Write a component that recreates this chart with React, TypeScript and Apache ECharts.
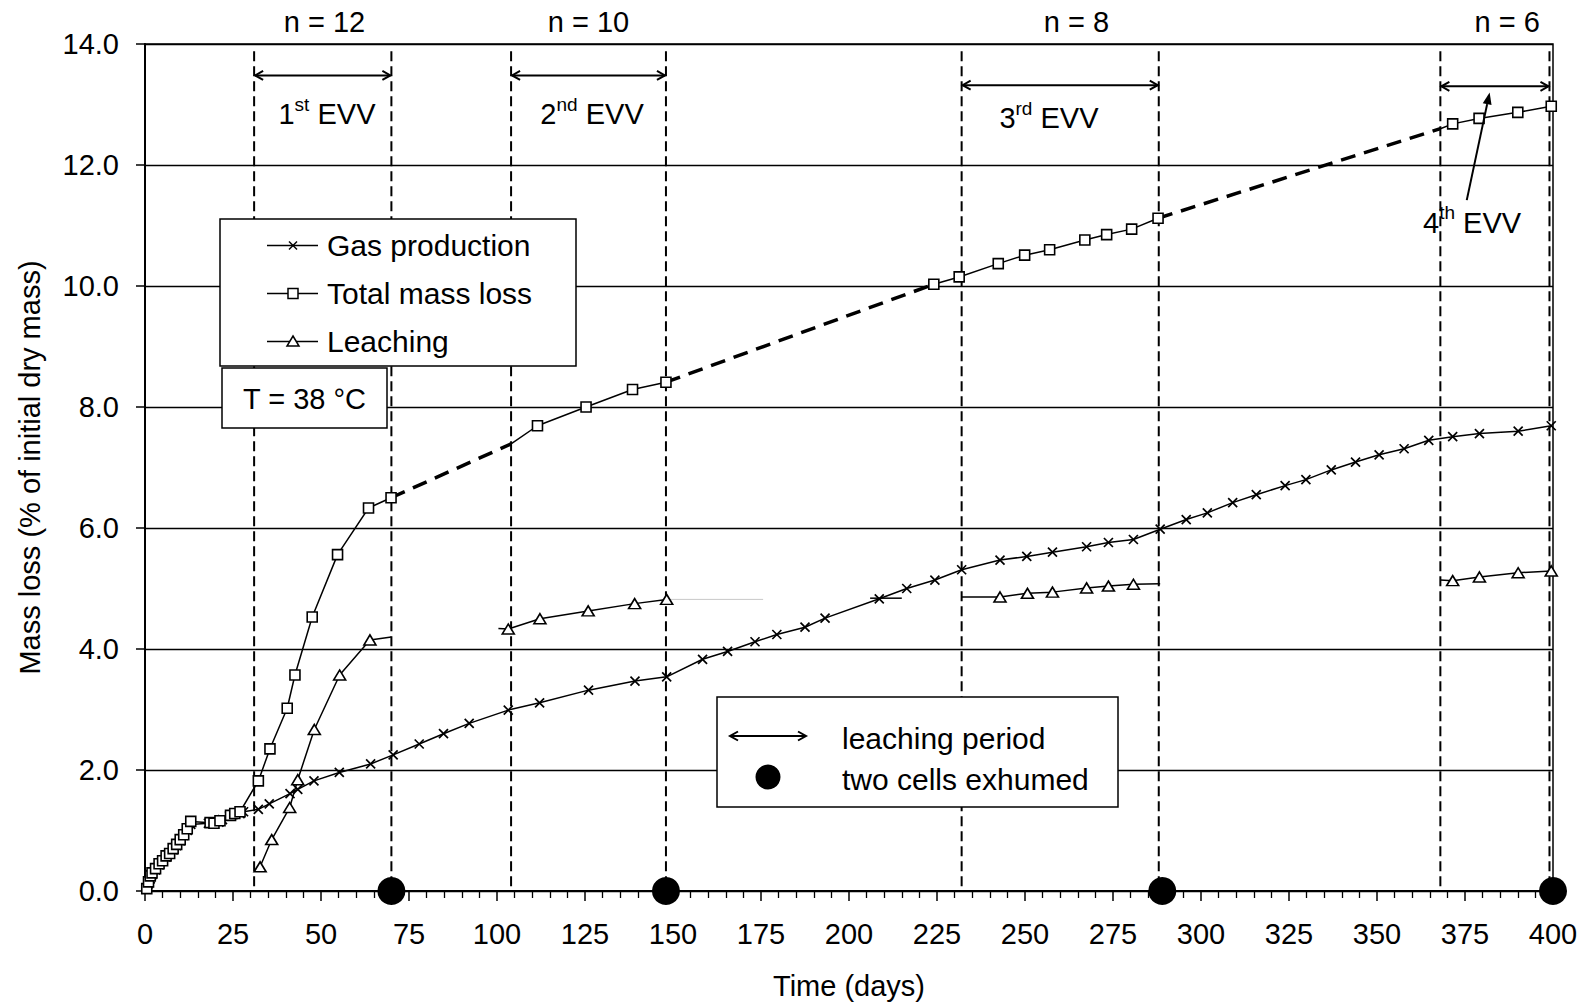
import React, { useEffect, useRef } from 'react';
import * as echarts from 'echarts';

const FONT = '"Liberation Sans", Arial, Helvetica, sans-serif';

// Cumulative gas production (% of initial dry mass)
const gasDays = [0.5, 1, 1.5, 2, 3, 4, 5, 6, 7, 8, 9, 10, 11, 12, 13, 18, 19.5, 21, 22, 24, 25, 27, 28, 32.2, 35.3, 41.2, 43.4, 48, 55.2, 64.1, 70.5, 77.9, 84.8, 92.1, 103.2, 112.1, 126, 139.2, 148.2, 158.4, 165.5, 173.3, 179.5, 187.5, 193.2, 208.6, 216.4, 224.4, 232, 242.9, 250.5, 257.8, 267.5, 273.7, 280.8, 288.4, 295.8, 301.8, 309, 315.7, 323.9, 329.8, 337, 343.9, 350.6, 357.7, 364.7, 371.5, 379.1, 390.1, 399.5];
const gasValues = [0.03, 0.12, 0.2, 0.27, 0.35, 0.43, 0.5, 0.56, 0.62, 0.68, 0.75, 0.83, 0.92, 1.0, 1.1, 1.12, 1.12, 1.14, 1.18, 1.24, 1.26, 1.28, 1.31, 1.35, 1.44, 1.61, 1.68, 1.82, 1.96, 2.1, 2.25, 2.43, 2.6, 2.77, 2.99, 3.11, 3.32, 3.47, 3.54, 3.83, 3.96, 4.12, 4.24, 4.36, 4.51, 4.83, 5.0, 5.14, 5.31, 5.47, 5.53, 5.6, 5.69, 5.76, 5.81, 5.98, 6.14, 6.25, 6.42, 6.55, 6.7, 6.8, 6.96, 7.09, 7.21, 7.31, 7.45, 7.51, 7.56, 7.6, 7.69];
// short stray stub drawn on the gas curve
const gasStubDays = [206, 215];
const gasStubValues = [4.84, 4.84];

// Total mass loss, measured stretches
const totalDays1 = [0.5, 1, 1.5, 2, 3, 4, 5, 6, 7, 8, 9, 10, 11, 12, 13, 18.5, 19.6, 21.3, 24.3, 25.5, 27, 32.2, 35.5, 40.4, 42.6, 47.5, 54.7, 63.5, 69.9];
const totalValues1 = [0.04, 0.15, 0.25, 0.3, 0.37, 0.45, 0.5, 0.58, 0.62, 0.7, 0.77, 0.85, 0.93, 1.03, 1.15, 1.13, 1.12, 1.16, 1.25, 1.28, 1.31, 1.82, 2.35, 3.02, 3.57, 4.53, 5.56, 6.33, 6.5];
const totalDays2 = [104, 111.5, 125.3, 138.5, 148];
const totalValues2 = [7.39, 7.69, 8.0, 8.29, 8.41];
const totalDays3 = [224.1, 231.3, 242.4, 249.9, 257, 267, 273.2, 280.3, 287.8];
const totalValues3 = [10.03, 10.15, 10.37, 10.51, 10.6, 10.76, 10.85, 10.94, 11.12];
const totalDays4 = [368, 371.5, 379, 390, 399.5];
const totalValues4 = [12.6, 12.68, 12.77, 12.87, 12.97];
const totalBareDays = [104, 368];

// Leaching
const leachDays1 = [32.7, 36, 41.1, 43.4, 48.1, 55.3, 63.9, 70];
const leachValues1 = [0.4, 0.85, 1.38, 1.84, 2.67, 3.57, 4.15, 4.2];
const leachDays2 = [100.4, 103.2, 112.2, 125.9, 139.1, 148.2];
const leachValues2 = [4.34, 4.33, 4.5, 4.63, 4.75, 4.82];
const leachDays3 = [232, 242.9, 250.7, 257.8, 267.5, 273.7, 280.8, 288.4];
const leachValues3 = [4.86, 4.86, 4.92, 4.94, 5.01, 5.04, 5.07, 5.08];
const leachDays4 = [368, 371.5, 379.1, 390.1, 399.5];
const leachValues4 = [5.14, 5.13, 5.19, 5.26, 5.29];
const leachBareDays = [70, 100.4, 232, 288.4, 368];
const leachTailDays = [148.2, 175.6];
const leachTailValues = [4.82, 4.82];

// Leaching campaigns (EVV)
const evvStart = [31, 104, 232, 368];
const evvEnd = [70, 148, 288, 399];
const arrowLevels = [13.48, 13.48, 13.32, 13.3];
const cellCounts = ['n = 12', 'n = 10', 'n = 8', 'n = 6'];
const countDays = [51, 126, 264.6, 387];
const countLevel = 14.36;
const evvOrdinals = ['1', '2', '3', '4'];
const evvSuffixes = ['st', 'nd', 'rd', 'th'];
const evvLabelDays = [51.7, 127, 256.8, 377];
const evvLabelLevels = [12.88, 12.88, 12.81, 11.09];
const pointerFrom = [375.5, 11.42];
const pointerTo = [382, 13.2];
const dashTop = 13.88;

// Days on which two cells were exhumed
const exhumeDays = [70, 148, 289, 400];

const pts = (days: number[], vals: number[]) => days.map((d, i) => [d, vals[i]]);
const marked = (days: number[], vals: number[], bare: number[]) =>
  days.map((d, i) => (bare.includes(d) ? { value: [d, vals[i]], symbol: 'none' } : [d, vals[i]]));

const lineStyleSolid = { color: '#000', width: 1.5 };

function buildOption() {
  const totalSegs = [
    [totalDays1, totalValues1],
    [totalDays2, totalValues2],
    [totalDays3, totalValues3],
    [totalDays4, totalValues4],
  ];
  const leachSegs = [
    [leachDays1, leachValues1],
    [leachDays2, leachValues2],
    [leachDays3, leachValues3],
    [leachDays4, leachValues4],
  ];

  const series: any[] = [];

  // vertical dashed campaign limits
  const bounds = [...evvStart, ...evvEnd];
  series.push({
    type: 'custom',
    name: 'campaign limits',
    silent: true,
    z: 1,
    data: bounds.map((d) => [d, 0]),
    encode: { x: 0, y: 1 },
    renderItem: (_p: any, api: any) => {
      const x = api.value(0);
      const a = api.coord([x, dashTop]);
      const b = api.coord([x, 0]);
      return {
        type: 'line',
        shape: { x1: a[0], y1: a[1], x2: b[0], y2: b[1] },
        style: { stroke: '#000', lineWidth: 2, lineDash: [10, 5] },
      };
    },
  });

  // extrapolated total mass loss between campaigns
  for (let i = 0; i < totalSegs.length - 1; i++) {
    const [dA, vA] = totalSegs[i];
    const [dB, vB] = totalSegs[i + 1];
    series.push({
      type: 'line',
      name: 'Total mass loss (interpolated)',
      silent: true,
      symbol: 'none',
      z: 2,
      lineStyle: { color: '#000', width: 3.5, type: [15, 9] },
      data: [
        [dA[dA.length - 1], vA[vA.length - 1]],
        [dB[0], vB[0]],
      ],
    });
  }

  series.push({
    type: 'line',
    name: 'Gas production',
    z: 3,
    symbol: 'path://M0,0L10,10M10,0L0,10',
    symbolSize: 9,
    lineStyle: lineStyleSolid,
    itemStyle: { color: '#000', borderColor: '#000', borderWidth: 1.7 },
    data: pts(gasDays, gasValues),
  });
  series.push({
    type: 'line',
    name: 'Gas production stub',
    z: 3,
    symbol: 'none',
    lineStyle: lineStyleSolid,
    data: pts(gasStubDays, gasStubValues),
  });

  totalSegs.forEach(([d, v]) => {
    series.push({
      type: 'line',
      name: 'Total mass loss',
      z: 4,
      symbol: 'rect',
      symbolSize: 10,
      lineStyle: lineStyleSolid,
      itemStyle: { color: '#fff', borderColor: '#000', borderWidth: 1.6 },
      data: marked(d, v, totalBareDays),
    });
  });

  leachSegs.forEach(([d, v]) => {
    series.push({
      type: 'line',
      name: 'Leaching',
      z: 4,
      symbol: 'triangle',
      symbolSize: [12, 10],
      lineStyle: lineStyleSolid,
      itemStyle: { color: '#fff', borderColor: '#000', borderWidth: 1.6 },
      data: marked(d, v, leachBareDays),
    });
  });
  series.push({
    type: 'line',
    name: 'Leaching tail',
    z: 3,
    symbol: 'none',
    lineStyle: { color: '#c8c8c8', width: 1 },
    data: pts(leachTailDays, leachTailValues),
  });

  // leaching period double arrows
  series.push({
    type: 'custom',
    name: 'leaching period',
    silent: true,
    z: 5,
    data: evvStart.map((s, i) => [s, evvEnd[i], arrowLevels[i]]),
    encode: { x: [0, 1], y: 2 },
    renderItem: (_p: any, api: any) => {
      const y = api.value(2);
      const p1 = api.coord([api.value(0), y]);
      const p2 = api.coord([api.value(1), y]);
      const st = { stroke: '#000', lineWidth: 2, fill: 'none' };
      return {
        type: 'group',
        children: [
          { type: 'line', shape: { x1: p1[0] + 1, y1: p1[1], x2: p2[0] - 1, y2: p2[1] }, style: st },
          { type: 'polyline', shape: { points: [[p1[0] + 9, p1[1] - 4.5], [p1[0] + 1, p1[1]], [p1[0] + 9, p1[1] + 4.5]] }, style: st },
          { type: 'polyline', shape: { points: [[p2[0] - 9, p2[1] - 4.5], [p2[0] - 1, p2[1]], [p2[0] - 9, p2[1] + 4.5]] }, style: st },
        ],
      };
    },
  });

  // pointer to the 4th campaign arrow
  series.push({
    type: 'custom',
    name: 'pointer',
    silent: true,
    z: 5,
    data: [[pointerFrom[0], pointerFrom[1], pointerTo[0], pointerTo[1]]],
    encode: { x: [0, 2], y: [1, 3] },
    renderItem: (_p: any, api: any) => {
      const a = api.coord([api.value(0), api.value(1)]);
      const b = api.coord([api.value(2), api.value(3)]);
      const dx = b[0] - a[0];
      const dy = b[1] - a[1];
      const len = Math.sqrt(dx * dx + dy * dy);
      const ux = dx / len;
      const uy = dy / len;
      const hl = 12;
      const hw = 4.5;
      const base = [b[0] - ux * hl, b[1] - uy * hl];
      return {
        type: 'group',
        children: [
          { type: 'line', shape: { x1: a[0], y1: a[1], x2: base[0], y2: base[1] }, style: { stroke: '#000', lineWidth: 2 } },
          {
            type: 'polygon',
            shape: { points: [[b[0], b[1]], [base[0] - uy * hw, base[1] + ux * hw], [base[0] + uy * hw, base[1] - ux * hw]] },
            style: { fill: '#000' },
          },
        ],
      };
    },
  });

  // cell counts above the plot
  series.push({
    type: 'custom',
    name: 'cell counts',
    silent: true,
    clip: false,
    z: 5,
    data: countDays.map((d, i) => [d, countLevel, i]),
    encode: { x: 0, y: 1 },
    renderItem: (_p: any, api: any) => {
      const p = api.coord([api.value(0), api.value(1)]);
      return {
        type: 'text',
        x: p[0],
        y: p[1],
        style: { text: cellCounts[api.value(2)], fontSize: 29, fontFamily: FONT, fill: '#000', align: 'center', verticalAlign: 'middle' },
      };
    },
  });

  // campaign labels
  series.push({
    type: 'custom',
    name: 'campaign labels',
    silent: true,
    z: 5,
    data: evvLabelDays.map((d, i) => [d, evvLabelLevels[i], i]),
    encode: { x: 0, y: 1 },
    renderItem: (_p: any, api: any) => {
      const p = api.coord([api.value(0), api.value(1)]);
      const i = api.value(2);
      return {
        type: 'text',
        x: p[0],
        y: p[1],
        style: {
          text: `{a|${evvOrdinals[i]}}{s|${evvSuffixes[i]}}{a| EVV}`,
          fontSize: 29,
          fontFamily: FONT,
          fill: '#000',
          align: 'center',
          verticalAlign: 'middle',
          rich: {
            a: { fontSize: 29, fontFamily: FONT, fill: '#000', lineHeight: 34, verticalAlign: 'bottom' },
            s: { fontSize: 19, fontFamily: FONT, fill: '#000', lineHeight: 20, verticalAlign: 'top' },
          },
        },
      };
    },
  });

  series.push({
    type: 'scatter',
    name: 'two cells exhumed',
    z: 6,
    clip: false,
    symbol: 'circle',
    symbolSize: 28,
    itemStyle: { color: '#000', opacity: 1 },
    data: exhumeDays.map((d) => [d, 0]),
  });

  // legend boxes
  const Z = 100;
  const txt = (text: string, x: number, y: number, size: number, align = 'left') => ({
    type: 'text',
    x,
    y,
    z: Z + 1,
    style: { text, fontSize: size, fontFamily: FONT, fill: '#000', align, verticalAlign: 'middle' },
  });
  const rowNames = ['Gas production', 'Total mass loss', 'Leaching'];
  const graphic: any[] = [
    { type: 'rect', z: Z, shape: { x: 220, y: 219, width: 356, height: 147 }, style: { fill: '#fff', stroke: '#000', lineWidth: 1.5 } },
    { type: 'rect', z: Z, shape: { x: 222, y: 368, width: 165, height: 60 }, style: { fill: '#fff', stroke: '#000', lineWidth: 1.5 } },
    txt('T = 38 °C', 304.5, 399, 29, 'center'),
    { type: 'rect', z: Z, shape: { x: 717, y: 697, width: 401, height: 110 }, style: { fill: '#fff', stroke: '#000', lineWidth: 1.5 } },
    { type: 'line', z: Z + 1, shape: { x1: 730, y1: 736, x2: 806, y2: 736 }, style: { stroke: '#000', lineWidth: 2 } },
    { type: 'polyline', z: Z + 1, shape: { points: [[738, 731.5], [730, 736], [738, 740.5]] }, style: { stroke: '#000', lineWidth: 2, fill: 'none' } },
    { type: 'polyline', z: Z + 1, shape: { points: [[798, 731.5], [806, 736], [798, 740.5]] }, style: { stroke: '#000', lineWidth: 2, fill: 'none' } },
    { type: 'circle', z: Z + 1, shape: { cx: 768, cy: 777, r: 12.5 }, style: { fill: '#000' } },
    txt('leaching period', 842, 738, 30),
    txt('two cells exhumed', 842, 779, 30),
  ];
  rowNames.forEach((name, i) => {
    const y = 245.5 + i * 48;
    graphic.push({ type: 'line', z: Z + 1, shape: { x1: 267, y1: y, x2: 318, y2: y }, style: { stroke: '#000', lineWidth: 1.5 } });
    if (i === 0) {
      graphic.push({ type: 'line', z: Z + 2, shape: { x1: 289, y1: y - 4, x2: 297, y2: y + 4 }, style: { stroke: '#000', lineWidth: 1.5 } });
      graphic.push({ type: 'line', z: Z + 2, shape: { x1: 297, y1: y - 4, x2: 289, y2: y + 4 }, style: { stroke: '#000', lineWidth: 1.5 } });
    } else if (i === 1) {
      graphic.push({ type: 'rect', z: Z + 2, shape: { x: 288, y: y - 5, width: 10, height: 10 }, style: { fill: '#fff', stroke: '#000', lineWidth: 1.5 } });
    } else {
      graphic.push({ type: 'polygon', z: Z + 2, shape: { points: [[293, y - 5.5], [299, y + 4.5], [287, y + 4.5]] }, style: { fill: '#fff', stroke: '#000', lineWidth: 1.5 } });
    }
    graphic.push(txt(name, 327, y, 30));
  });

  return {
    animation: false,
    backgroundColor: '#fff',
    textStyle: { fontFamily: FONT, color: '#000' },
    grid: { left: 145, top: 44, width: 1408, height: 847, show: true, borderColor: '#000', borderWidth: 1.5, backgroundColor: 'transparent' },
    xAxis: {
      type: 'value',
      min: 0,
      max: 400,
      interval: 25,
      name: 'Time (days)',
      nameLocation: 'middle',
      nameGap: 80,
      nameTextStyle: { fontSize: 29, color: '#000', fontFamily: FONT },
      axisLine: { show: true, onZero: false, lineStyle: { color: '#000', width: 2 } },
      axisTick: { show: true, length: 10, lineStyle: { color: '#000', width: 1.5 } },
      minorTick: { show: true, splitNumber: 5, length: 7, lineStyle: { color: '#000', width: 1.3 } },
      axisLabel: { fontSize: 29, color: '#000', margin: 28, fontFamily: FONT },
      splitLine: { show: false },
    },
    yAxis: {
      type: 'value',
      min: 0,
      max: 14,
      interval: 2,
      name: 'Mass loss (% of initial dry mass)',
      nameLocation: 'middle',
      nameGap: 101,
      nameTextStyle: { fontSize: 29, color: '#000', fontFamily: FONT },
      axisLine: { show: true, lineStyle: { color: '#000', width: 2 } },
      axisTick: { show: true, length: 9, lineStyle: { color: '#000', width: 1.5 } },
      axisLabel: { fontSize: 29, color: '#000', margin: 26, fontFamily: FONT, formatter: (v: number) => v.toFixed(1) },
      splitLine: { show: true, lineStyle: { color: '#000', width: 1.3 } },
    },
    graphic,
    series,
  };
}

export default function App() {
  const ref = useRef<HTMLDivElement>(null);
  useEffect(() => {
    if (!ref.current) return;
    const chart = echarts.init(ref.current, undefined, { renderer: 'svg' });
    chart.setOption(buildOption() as any);
    return () => chart.dispose();
  }, []);
  return <div ref={ref} style={{ position: 'absolute', left: 0, top: 0, width: 1592, height: 1008, background: '#fff' }} />;
}
